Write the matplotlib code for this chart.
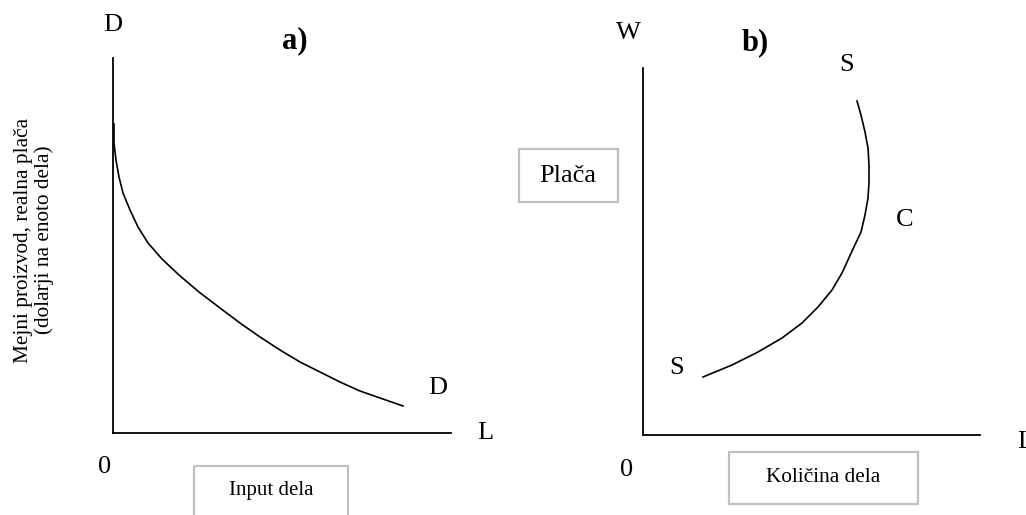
import matplotlib.pyplot as plt
from matplotlib.patches import Rectangle

plt.rcParams['font.family'] = ['Liberation Serif', 'DejaVu Serif']

# demand curve D-D, panel a (units measured from the origin)
demand_x = [1, 1, 3, 6, 10, 17, 25, 35, 49, 66, 86, 107, 127, 147, 167, 187, 207, 227, 247, 267, 290]
demand_y = [309, 290, 273, 256, 240, 223, 206, 190, 174, 158, 141, 125, 110, 96, 83, 71, 61, 51, 42, 35, 27]

# backward bending supply curve S-C-S, panel b
supply_x = [60, 89, 115, 139, 159, 175, 189, 199, 210, 218, 222, 225, 226, 226, 225, 222, 218, 214]
supply_y = [58, 70, 83, 97, 112, 128, 145, 162, 186, 203, 220, 237, 253, 270, 287, 303, 320, 334]

W, H = 1026, 515
fig = plt.figure(figsize=(W / 100, H / 100), dpi=100)


def panel(ox, oy, w, h):
    ax = fig.add_axes([ox / W, 1 - oy / H, w / W, h / H])
    ax.set_xlim(0, w)
    ax.set_ylim(0, h)
    for s in ['top', 'right']:
        ax.spines[s].set_visible(False)
    for s in ['left', 'bottom']:
        ax.spines[s].set_linewidth(1.3)
    ax.set_xticks([])
    ax.set_yticks([])
    ax.patch.set_alpha(0)
    return ax


def box(ax, x0, y0, x1, y1):
    ax.add_patch(Rectangle((x0, y0), x1 - x0, y1 - y0, fill=False, ec='#c0c0c0',
                           lw=1.6, clip_on=False))


big = 19
lab = 22

# panel a
ax1 = panel(113, 433, 338, 375)
ax1.plot(demand_x, demand_y, color='black', lw=1.2)
ax1.text(0, 408, 'D', ha='center', va='center', fontsize=big)
ax1.text(182, 392, 'a)', ha='center', va='center', fontsize=lab, fontweight='bold')
ax1.text(325, 45, 'D', ha='center', va='center', fontsize=big)
ax1.text(372, 0, 'L', ha='center', va='center', fontsize=big)
ax1.text(-8, -34, '0', ha='center', va='center', fontsize=big)
box(ax1, 81, -33, 235, -90)
ax1.text(158, -58, 'Input dela', ha='center', va='center', fontsize=15)
ax1.text(-79, 193, 'Mejni proizvod, realna plača\n(dolarji na enoto dela)',
         ha='center', va='center', rotation=90, fontsize=15.3, linespacing=1.15)

# panel b
ax2 = panel(643, 435, 337, 367)
ax2.plot(supply_x, supply_y, color='black', lw=1.2)
ax2.text(-15, 402, 'W', ha='center', va='center', fontsize=big)
ax2.text(112, 392, 'b)', ha='center', va='center', fontsize=lab, fontweight='bold')
ax2.text(204, 370, 'S', ha='center', va='center', fontsize=big)
ax2.text(262, 215, 'C', ha='center', va='center', fontsize=big)
ax2.text(34, 67, 'S', ha='center', va='center', fontsize=big)
ax2.text(374, -7, 'L', ha='left', va='center', fontsize=big)
ax2.text(-16, -35, '0', ha='center', va='center', fontsize=big)
box(ax2, -124, 233, -25, 286)
ax2.text(-75, 259, 'Plača', ha='center', va='center', fontsize=19)
box(ax2, 86, -17, 275, -69)
ax2.text(180, -42, 'Količina dela', ha='center', va='center', fontsize=15.3)

fig.savefig('out.png', dpi=100)
